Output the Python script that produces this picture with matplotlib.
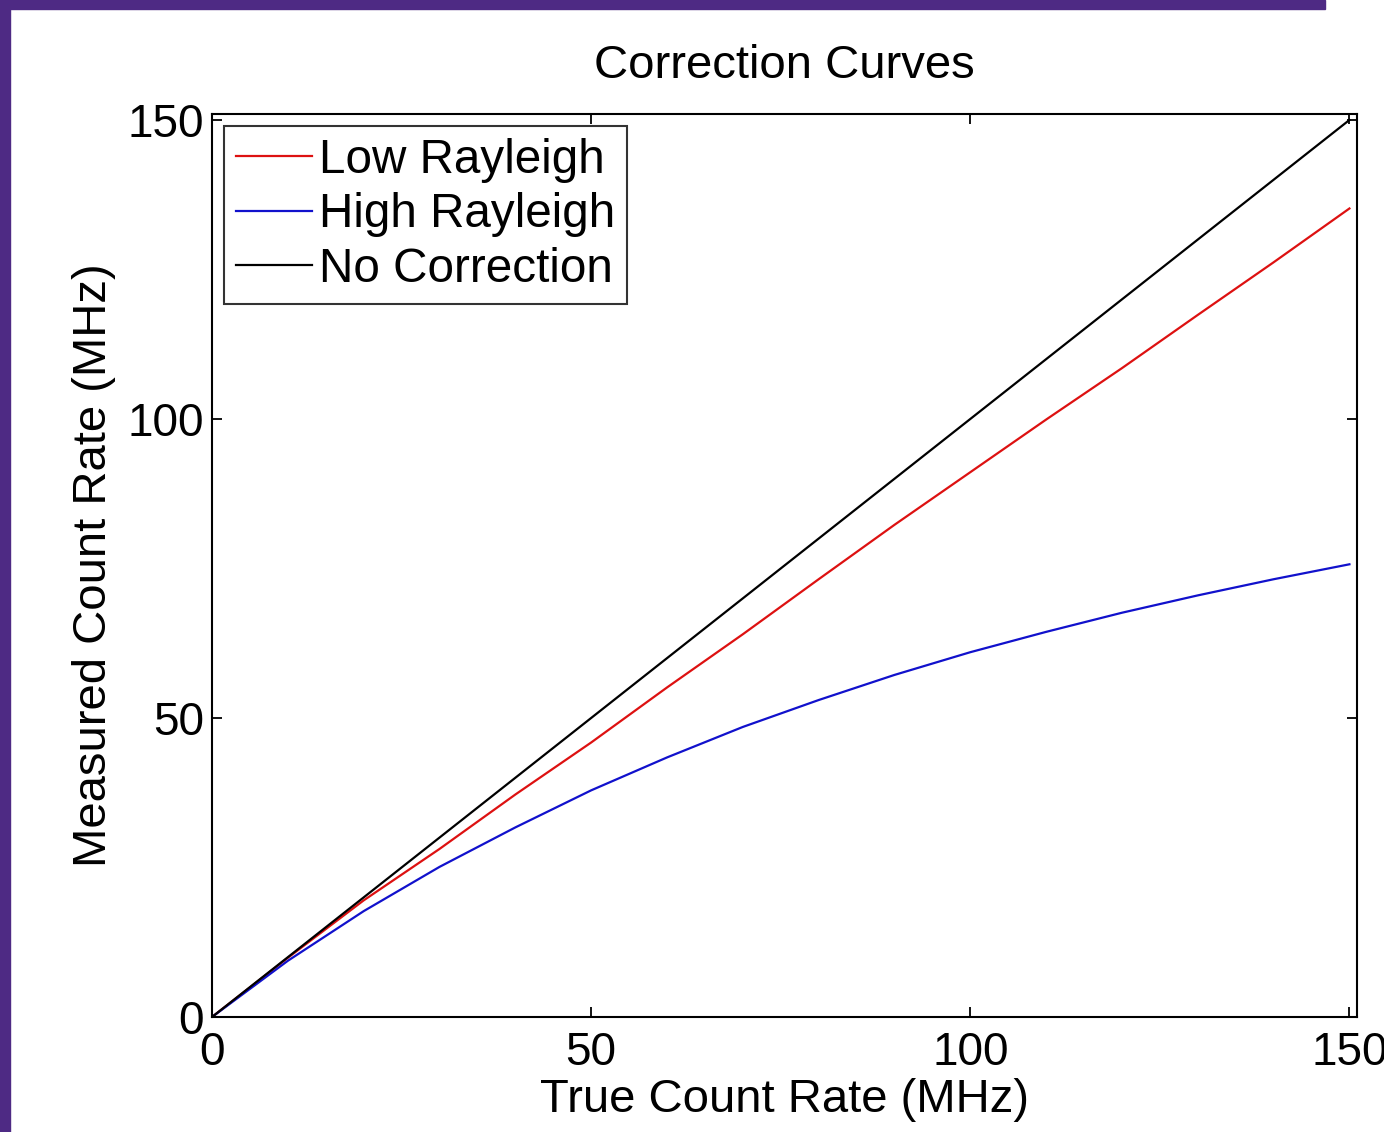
import numpy as np
import matplotlib
matplotlib.use('Agg')
import matplotlib.pyplot as plt
from matplotlib.patches import Rectangle

# values, every 10 MHz of true count rate
true_rate = [0, 10, 20, 30, 40, 50, 60, 70, 80, 90, 100, 110, 120, 130, 140, 150]
low_rayleigh = [0, 9.9, 19.5, 28.1, 37.2, 45.9, 55.1, 64.0, 73.2, 82.3, 91.1, 99.9, 108.5, 117.4, 126.2, 135.2]
high_rayleigh = [0, 9.4, 17.7, 25.1, 31.7, 37.9, 43.4, 48.5, 53.0, 57.2, 61.0, 64.4, 67.6, 70.5, 73.2, 75.7]
no_correction = [0, 10, 20, 30, 40, 50, 60, 70, 80, 90, 100, 110, 120, 130, 140, 150]

series_names = ['Low Rayleigh', 'High Rayleigh', 'No Correction']
ticks = [0, 50, 100, 150]

plt.rcParams['font.family'] = ['Liberation Sans', 'DejaVu Sans']

fig = plt.figure(figsize=(13.84, 11.32), dpi=100)
ax = fig.add_axes([0.1532, 0.1016, 0.9805 - 0.1532, 0.8993 - 0.1016])

ax.plot(true_rate, low_rayleigh, color='#dd1111', lw=1.6, label=series_names[0])
ax.plot(true_rate, high_rayleigh, color='#1111cc', lw=1.6, label=series_names[1])
ax.plot(true_rate, no_correction, color='black', lw=1.6, label=series_names[2])

ax.set_xlim(0, 151)
ax.set_ylim(0, 151)
ax.set_xticks(ticks)
ax.set_yticks(ticks)
ax.tick_params(direction='in', length=7, width=1.3, labelsize=33,
               top=True, right=True, pad=10)
ax.tick_params(axis='y', pad=6)
for s in ax.spines.values():
    s.set_linewidth(1.5)

ax.set_title('Correction Curves', fontsize=34, pad=26)
ax.set_xlabel('True Count Rate (MHz)', fontsize=34, labelpad=2)
ax.set_ylabel('Measured Count Rate (MHz)', fontsize=34, labelpad=8)

leg = ax.legend(loc='upper left', fontsize=34.3, frameon=True, fancybox=False,
                edgecolor='black', handlelength=1.6, handletextpad=0.15,
                labelspacing=0.2, borderpad=0.25, borderaxespad=0.25)
leg.get_frame().set_linewidth(1.5)

# purple slide border
fig.add_artist(Rectangle((0, 0), 10 / 1384, 1, transform=fig.transFigure,
                         color='#4e2a84', zorder=10))
fig.add_artist(Rectangle((0, 1 - 9 / 1132), 1325 / 1384, 9 / 1132,
                         transform=fig.transFigure, color='#4e2a84', zorder=10))

fig.savefig('out.png', dpi=100)
